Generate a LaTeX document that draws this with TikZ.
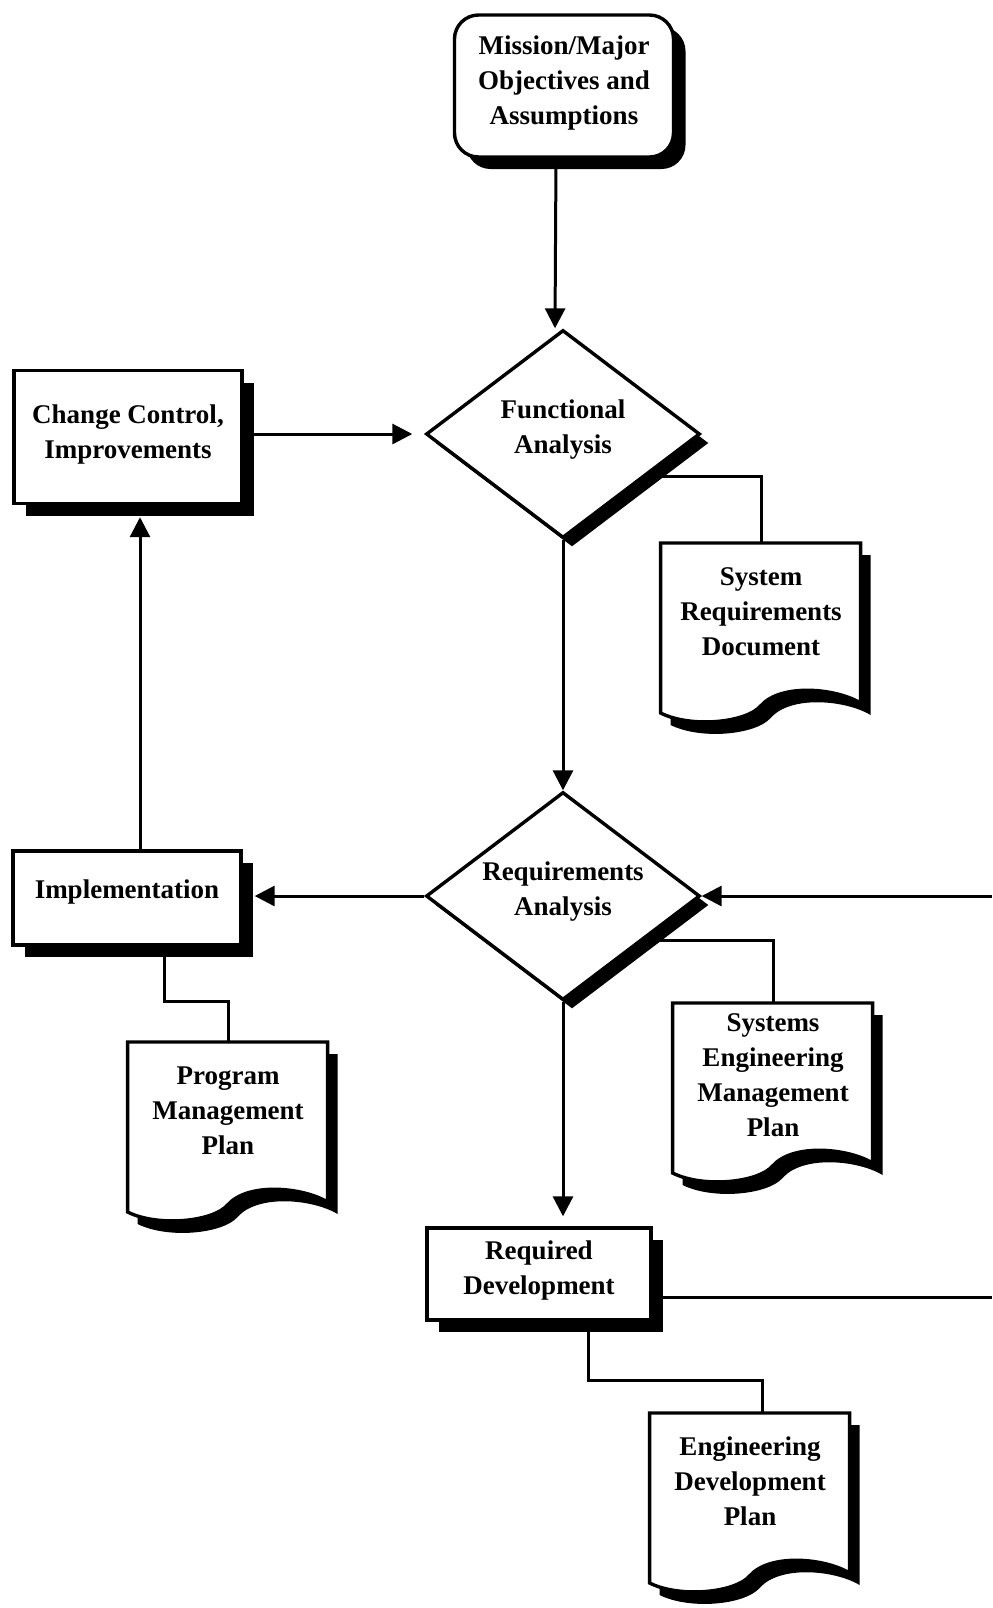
\documentclass[tikz,border=0pt]{standalone}
\usepackage{fontspec}
\setmainfont{Liberation Serif}
\usetikzlibrary{shapes.geometric,shadows,arrows.meta,calc}
\pgfdeclarelayer{bg}
\pgfdeclarelayer{docs}
\pgfsetlayers{bg,docs,main}
\newcommand\txt[2][2pt]{\raisebox{#1}[\height][\depth]{\begin{tabular}{@{}c@{}}#2\end{tabular}}}
\newcommand\docpath{(0,0) -- (200,0) -- (200,160) .. controls (175,145) and (120,140) .. (100,163) .. controls (85,180) and (30,185) .. (0,170) -- cycle}
\newcommand\docshape[1]{%
  \begin{pgfonlayer}{docs}
    \begin{scope}[shift={(#1.north west)}]
      \begin{scope}[shift={(10,12)}]
        \fill[black] \docpath;
      \end{scope}
      \filldraw[fill=white, line width=1.7pt, line join=miter] \docpath;
    \end{scope}
  \end{pgfonlayer}}
\begin{document}
\begin{tikzpicture}[x=0.5pt, y=-0.5pt,
  lbl/.style={font=\fontsize{13.5pt}{17.5pt}\selectfont\bfseries, inner sep=0pt},
  boxshadow/.style={drop shadow={shadow xshift=6pt, shadow yshift=-6pt, opacity=1, fill=black}},
  procbox/.style={lbl, draw, line width=1.7pt, fill=white, rectangle, boxshadow},
  decision/.style={lbl, draw, line width=1.7pt, fill=white, diamond, shape aspect=1.32,
     minimum width=137pt, minimum height=104pt,
     drop shadow={shadow xshift=4.5pt, shadow yshift=-4.5pt, opacity=1, fill=black}},
  doc/.style={lbl, minimum width=100pt, minimum height=70pt, anchor=north},
  conn/.style={line width=1.5pt},
  arr/.style={conn, -{Triangle[length=10pt, width=10pt]}}]

\useasboundingbox (0,0) rectangle (992,1608);

% process boxes
\node[procbox, rounded corners=12pt, minimum width=109.5pt, minimum height=71pt] (mission) at (564,86)
  {\txt[2pt]{Mission/Major\\Objectives and\\Assumptions}};
\node[procbox, minimum width=114pt, minimum height=66.5pt] (cc) at (128,437)
  {\txt[1.5pt]{Change Control,\\Improvements}};
\node[procbox, minimum width=114pt, minimum height=47pt] (impl) at (127,898)
  {\txt[3.5pt]{Implementation}};
\node[procbox, minimum width=112pt, minimum height=46pt] (rd) at (539,1274)
  {\txt[2pt]{Required\\Development}};

% decisions
\node[decision] (fa) at (563,434) {\txt[2.75pt]{Functional\\Analysis}};
\node[decision] (ra) at (563,896) {\txt[2.75pt]{Requirements\\Analysis}};

% documents
\node[doc] (srd) at (761,543) {\txt[0pt]{System\\Requirements\\Document}};
\docshape{srd}
\node[doc] (semp) at (773,1003) {\txt[-2pt]{Systems\\Engineering\\Management\\Plan}};
\docshape{semp}
\node[doc] (pmp) at (228,1042) {\txt[0pt]{Program\\Management\\Plan}};
\docshape{pmp}
\node[doc] (edp) at (750,1413) {\txt[0pt]{Engineering\\Development\\Plan}};
\docshape{edp}

% free ends at the right border
\coordinate (inR) at (992,896);
\coordinate (outR) at (992,1297);

% connectors
\begin{pgfonlayer}{bg}
  \draw[arr] ([xshift=-4pt]mission.south) -- ([xshift=-4pt]fa.north);
  \draw[arr, shorten >=6pt] (cc.east |- fa.west) -- (fa.west);
  \draw[arr, shorten >=6pt] ([xshift=6.5pt]impl.north) -- ([xshift=6.5pt]impl.north |- cc.south);
  \draw[conn] ($(fa.east)!0.4!(fa.south)$) -| (srd.north);
  \draw[arr] (fa.south) -- (ra.north);
  \draw[arr] (inR) -- (ra.east);
  \draw[arr, shorten >=6pt] (ra.west) -- (ra.west -| impl.east);
  \draw[conn] ([xshift=18.5pt]impl.south) -- ++(0,55) -| (pmp.north);
  \draw[conn] ($(ra.east)!0.42!(ra.south)$) -| (semp.north);
  \draw[arr, shorten >=5pt] (ra.south) -- (ra.south |- rd.north);
  \draw[conn] ([yshift=-11.5pt]rd.east) -- ([yshift=-11.5pt]rd.east -| outR);
  \draw[conn] ([xshift=24.5pt]rd.south) -- ++(0,59) -| ([xshift=6pt]edp.north);
\end{pgfonlayer}
\end{tikzpicture}
\end{document}
